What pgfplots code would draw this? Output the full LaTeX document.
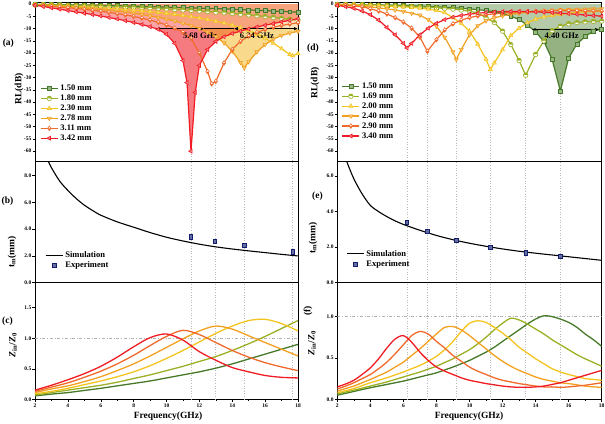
\documentclass[border=0pt]{standalone}
\usepackage{pgfplots}
\pgfplotsset{compat=1.18}
\usepackage{pgfplotstable}
\usetikzlibrary{plotmarks,arrows.meta}
\usepackage{fontspec}
\setmainfont{Liberation Serif}

\definecolor{cG}{RGB}{70,122,40}
\definecolor{cYG}{RGB}{155,176,36}
\definecolor{cY}{RGB}{244,196,30}
\definecolor{cA}{RGB}{242,160,32}
\definecolor{cO}{RGB}{240,106,44}
\definecolor{cR}{RGB}{240,28,36}
\definecolor{cNavy}{RGB}{20,30,110}

\newcommand\tickfont{\fontsize{5.5}{6}\selectfont\bfseries}
\newcommand\legfont{\fontsize{8.5}{10}\selectfont\bfseries}
\newcommand\labfont{\fontsize{9.5}{11}\selectfont\bfseries}

\pgfplotstableread{
f a150 a180 a230 a278 a311 a342
2 -0.10 -0.15 -0.25 -0.35 -0.45 -0.40
2.5 -0.13 -0.20 -0.35 -0.50 -0.65 -0.95
3 -0.17 -0.27 -0.50 -0.70 -0.90 -1.50
3.5 -0.21 -0.35 -0.65 -0.90 -1.15 -2.05
4 -0.26 -0.43 -0.80 -1.10 -1.45 -2.60
4.5 -0.31 -0.52 -0.95 -1.35 -1.75 -3.15
5 -0.37 -0.62 -1.10 -1.60 -2.10 -3.70
5.5 -0.43 -0.72 -1.30 -1.90 -2.50 -4.25
6 -0.50 -0.83 -1.50 -2.20 -2.90 -4.85
6.5 -0.57 -0.95 -1.70 -2.55 -3.35 -5.45
7 -0.65 -1.07 -1.95 -2.90 -3.85 -6.05
7.5 -0.73 -1.20 -2.20 -3.30 -4.40 -6.75
8 -0.82 -1.34 -2.45 -3.75 -5.00 -7.50
8.5 -0.91 -1.48 -2.75 -4.25 -5.70 -8.30
9 -1.00 -1.63 -3.05 -4.80 -6.50 -9.20
9.5 -1.10 -1.80 -3.40 -5.40 -7.40 -10.3
10 -1.20 -1.97 -3.75 -6.10 -8.50 -12.3
10.5 -1.30 -2.15 -4.15 -6.90 -9.80 -16.0
11 -1.40 -2.35 -4.60 -7.80 -11.4 -23.0
11.25 nan nan nan nan nan -32.0
11.49 nan nan nan nan nan -60.0
11.5 -1.50 -2.55 -5.10 -8.80 -14.0 nan
11.75 nan nan nan nan nan -36.0
12 -1.60 -2.77 -5.65 -10.0 -20.0 -25.0
12.5 -1.70 -3.00 -6.25 -11.5 -27.5 -18.5
12.75 nan nan nan nan -32.5 nan
13 -1.80 -3.25 -6.95 -13.3 -31.5 -15.2
13.5 -1.92 -3.50 -7.70 -15.8 -24.0 -13.3
14 -2.05 -3.78 -8.60 -19.2 -18.5 -12.0
14.5 -2.20 -4.07 -9.60 -23.8 -15.2 -11.0
14.73 nan nan nan -26.0 nan nan
15 -2.35 -4.38 -10.8 -23.5 -13.0 -10.1
15.5 -2.50 -4.70 -12.2 -19.5 -11.5 -9.3
16 -2.65 -5.05 -13.9 -16.5 -10.3 -8.6
16.5 -2.80 -5.40 -15.9 -14.3 -9.4 -7.9
17 -2.95 -5.78 -18.2 -12.8 -8.7 -7.2
17.5 -3.10 -6.15 -20.5 -11.8 -8.1 -6.6
17.67 nan nan -21.0 nan nan nan
18 -3.25 -6.50 -20.2 -11.1 -7.6 -6.0
}\tA

\pgfplotstableread{
f rl
9.36 -10
9.5 -10.3
10 -12.3
10.5 -16.0
11 -23.0
11.25 -32.0
11.49 -60.0
11.75 -36.0
12 -25.0
12.5 -18.5
13 -15.2
13.5 -13.3
14 -12.0
14.5 -11.0
15 -10.1
15.04 -10
}\tAR

\pgfplotstableread{
f rl
12 -10.0
12.5 -11.5
13 -13.3
13.5 -15.8
14 -19.2
14.5 -23.8
14.73 -26.0
15 -23.5
15.5 -19.5
16 -16.5
16.5 -14.3
17 -12.8
17.5 -11.8
18 -11.1
18 -10
}\tAA

\pgfplotstableread{
f d150 d169 d200 d240 d290 d340
2 -0.10 -0.12 -0.15 -0.25 -0.35 -0.50
2.5 -0.13 -0.17 -0.22 -0.40 -0.50 -1.00
3 -0.17 -0.23 -0.30 -0.60 -0.75 -1.70
3.5 -0.22 -0.30 -0.40 -0.85 -1.05 -2.80
4 -0.28 -0.38 -0.50 -1.15 -1.90 -4.30
4.5 -0.35 -0.47 -0.62 -1.50 -2.80 -6.50
5 -0.42 -0.57 -0.76 -1.90 -4.00 -9.50
5.5 -0.50 -0.68 -0.92 -2.40 -5.50 -12.5
6 -0.60 -0.80 -1.10 -3.00 -7.30 -16.0
6.22 nan nan nan nan nan -17.9
6.5 -0.70 -0.95 -1.32 -3.70 -9.80 -16.0
7 -0.82 -1.10 -1.60 -4.50 -13.5 -12.5
7.45 nan nan nan nan -19.2 nan
7.5 -0.95 -1.30 -2.00 -6.30 nan -9.8
8 -1.10 -1.50 -2.60 -9.00 -14.5 -7.8
8.5 -1.27 -1.75 -3.50 -13.5 -10.5 -6.3
9 -1.46 -2.05 -5.50 -19.5 -8.0 -5.3
9.2 nan nan nan -22.6 nan nan
9.5 -1.68 -2.40 -7.80 -18.5 -6.5 -4.6
10 -1.93 -2.90 -11.0 -12.5 -5.5 -4.1
10.5 -2.22 -3.60 -16.3 -8.8 -4.8 -3.7
11 -2.60 -5.50 -22.5 -6.8 -4.3 -3.4
11.26 nan nan -26.7 nan nan nan
11.5 -3.10 -7.50 -24.0 -5.6 -3.95 -3.2
12 -3.80 -11.0 -18.6 -4.8 -3.65 -3.05
12.5 -4.90 -16.5 -12.8 -4.2 -3.4 -3.0
13 -6.30 -23.0 -9.8 -3.7 -3.2 -3.0
13.4 nan -29.0 nan nan nan nan
13.5 -8.50 nan -7.6 -3.3 -3.05 -3.05
14 -11.3 -20.5 -6.1 -3.0 -2.9 -3.15
14.5 -15.2 -15.0 -5.2 -2.7 -2.8 -3.3
15 -22.5 -10.8 -4.6 -2.5 -2.75 -3.5
15.5 -35.5 -9.0 -4.1 -2.35 -2.7 -3.7
16 -22.0 -8.0 -3.7 -2.2 -2.7 -3.9
16.5 -16.2 -7.5 -3.4 -2.1 -2.7 -4.15
17 -13.2 -7.2 -3.1 -2.0 -2.75 -4.4
17.5 -11.0 -7.0 -2.9 -1.95 -2.8 -4.65
18 -10.1 -6.9 -2.7 -1.9 -2.85 -4.9
}\tD

\pgfplotstableread{
f rl
13.76 -10
14 -11.3
14.5 -15.2
15 -22.5
15.5 -35.5
16 -22.0
16.5 -16.2
17 -13.2
17.5 -11.0
18 -10.1
18 -10
}\tDG

\pgfplotstableread{
f c150 c180 c230 c278 c311 c342
2 0.055 0.07 0.09 0.11 0.13 0.15
3 0.085 0.11 0.13 0.17 0.20 0.23
4 0.11 0.15 0.18 0.22 0.27 0.32
5 0.145 0.19 0.24 0.29 0.36 0.42
6 0.18 0.23 0.30 0.37 0.46 0.54
7 0.22 0.28 0.37 0.47 0.58 0.69
8 0.26 0.34 0.45 0.58 0.72 0.86
9 0.30 0.40 0.55 0.71 0.88 1.01
10 0.35 0.47 0.67 0.85 1.03 1.07
11 0.40 0.54 0.80 0.99 1.13 0.97
12 0.45 0.62 0.94 1.12 1.06 0.78
13 0.51 0.70 1.08 1.20 0.93 0.64
14 0.58 0.80 1.20 1.15 0.80 0.52
15 0.66 0.91 1.29 1.04 0.69 0.45
16 0.74 1.03 1.31 0.93 0.60 0.39
17 0.82 1.16 1.24 0.82 0.53 0.36
18 0.90 1.29 1.12 0.71 0.47 0.35
}\tC

\pgfplotstableread{
f f150 f169 f200 f240 f290 f340
2 0.050 0.065 0.080 0.100 0.125 0.150
2.5 0.072 0.088 0.105 0.130 0.160 0.185
3 0.095 0.110 0.130 0.160 0.200 0.230
3.5 0.118 0.135 0.165 0.200 0.250 0.300
4 0.140 0.160 0.200 0.240 0.300 0.380
4.5 0.160 0.185 0.230 0.285 0.370 0.490
5 0.180 0.210 0.260 0.330 0.450 0.620
5.5 0.200 0.240 0.295 0.390 0.550 0.730
6 0.220 0.270 0.330 0.450 0.660 0.770
6.5 0.245 0.300 0.370 0.530 0.770 0.690
7 0.270 0.330 0.410 0.610 0.820 0.570
7.5 0.295 0.365 0.460 0.700 0.790 0.470
8 0.320 0.400 0.520 0.790 0.700 0.390
8.5 0.355 0.445 0.600 0.870 0.620 0.340
9 0.390 0.490 0.700 0.880 0.530 0.300
9.5 0.430 0.545 0.820 0.840 0.460 0.260
10 0.470 0.600 0.920 0.770 0.390 0.230
10.5 0.520 0.670 0.950 0.690 0.340 0.210
11 0.570 0.750 0.930 0.610 0.300 0.190
11.5 0.630 0.840 0.870 0.530 0.260 0.175
12 0.700 0.920 0.800 0.460 0.230 0.160
12.5 0.770 0.980 0.720 0.400 0.210 0.150
13 0.840 0.960 0.630 0.350 0.190 0.145
13.5 0.910 0.910 0.560 0.310 0.175 0.145
14 0.970 0.850 0.490 0.270 0.160 0.150
14.5 1.010 0.790 0.430 0.240 0.150 0.160
15 1.000 0.720 0.370 0.220 0.150 0.180
15.5 0.970 0.660 0.330 0.200 0.145 0.200
16 0.930 0.600 0.300 0.190 0.150 0.230
16.5 0.870 0.540 0.275 0.175 0.160 0.260
17 0.790 0.490 0.250 0.160 0.170 0.290
17.5 0.720 0.445 0.240 0.150 0.185 0.320
18 0.640 0.400 0.230 0.145 0.200 0.350
}\tF

\pgfplotstableread{
f t
2.6 9.6
3 8.6
3.5 7.6
4 6.9
4.5 6.3
5 5.8
5.5 5.4
6 5.05
7 4.55
8 4.15
9 3.75
10 3.4
11 3.12
12 2.88
13 2.68
14 2.52
15 2.38
16 2.25
17 2.12
18 2.0
}\tSB

\pgfplotstableread{
f t
2.4 7.3
2.6 6.75
3 5.85
3.5 5.0
4 4.35
4.5 4.0
5 3.72
5.5 3.48
6 3.28
7 2.95
8 2.66
9 2.42
10 2.22
11 2.05
12 1.9
13 1.77
14 1.66
15 1.56
16 1.46
17 1.36
18 1.26
}\tSE

\pgfplotstableread{
f t
11.49 3.42
12.95 3.11
14.73 2.78
17.67 2.30
}\tEB

\pgfplotstableread{
f t
6.22 3.40
7.45 2.90
9.2 2.40
11.26 2.00
13.4 1.69
15.5 1.50
}\tEE

\tikzset{vl/.style={gray!55, dotted, line width=0.6pt}}
\pgfplotsset{
 panel/.style={scale only axis, xmin=2, xmax=18,
   axis line style={line width=0.9pt},
   tick style={line width=0.5pt, black},
   tick align=outside, major tick length=2.5pt, minor tick length=1.5pt,
   ytick pos=left, xtick pos=bottom,
   yticklabel style={font=\tickfont, inner sep=1pt},
   xticklabel style={font=\tickfont, inner sep=1.5pt},
   /pgf/number format/assume math mode=true,
   legend cell align=left, clip=true},
 noxt/.style={xtick=\empty},
 onedec/.style={yticklabel style={/pgf/number format/fixed, /pgf/number format/fixed zerofill, /pgf/number format/precision=1}},
 rl/.style={line width=1.2pt, mark size=2.3pt},
 zl/.style={line width=1.3pt, smooth, no markers},
 s1/.style={cG, mark=square*, mark options={fill=cG!55!white, solid, line width=0.6pt, scale=0.85}},
 s2/.style={cYG, mark=halfcircle*, mark options={fill=cYG, mark color=white, solid, line width=0.6pt}},
 s3/.style={cY, mark=triangle*, mark options={fill=cY!55!white, solid, line width=0.6pt}},
 s4/.style={cA, mark=triangle*, mark options={fill=cA!55!white, solid, rotate=180, line width=0.6pt}},
 s5/.style={cO, mark=halfdiamond*, mark options={fill=cO, mark color=white, solid, line width=0.6pt}},
 s6/.style={cR, mark=triangle*, mark options={fill=cR!55!white, solid, rotate=90, line width=0.6pt}},
 ex/.style={only marks, mark=square*, mark size=2.2pt, mark options={draw=cNavy, fill=cNavy!65!white, line width=0.6pt, xscale=0.75}},
 leg/.style={legend style={at={#1}, anchor=north west, draw=none, fill=none, font=\legfont, row sep=-1.2pt, inner sep=0pt}},
}

\begin{document}
\begin{tikzpicture}
\path[use as bounding box] (0pt,0pt) rectangle (605pt,423pt);

% ---------------- (a)
\begin{axis}[panel, noxt, at={(35pt,262pt)}, anchor=south west, width=263pt, height=158.8pt,
  ymin=-64, ymax=0.8, ytick={-60,-55,...,0}, leg={(0.019,0.493)}]
\addplot[draw=none, fill=cR, fill opacity=0.4, forget plot] table[x=f,y=a342]{\tA} \closedcycle;
\addplot[draw=none, fill=cA, fill opacity=0.3, forget plot] table[x=f,y=a278]{\tA} \closedcycle;
\addplot[draw=none, fill=cR, fill opacity=0.3, forget plot] table[x=f,y=rl]{\tAR} -- cycle;
\addplot[draw=none, fill=cY, fill opacity=0.3, forget plot] table[x=f,y=rl]{\tAA} -- cycle;
\draw[vl] (axis cs:11.49,-60) -- (axis cs:11.49,-64);
\draw[vl] (axis cs:12.95,-32) -- (axis cs:12.95,-64);
\draw[vl] (axis cs:14.73,-26) -- (axis cs:14.73,-64);
\draw[vl] (axis cs:17.67,-21) -- (axis cs:17.67,-64);
\addplot[rl, s1] table[x=f,y=a150]{\tA}; \addlegendentry{1.50 mm}
\addplot[rl, s2] table[x=f,y=a180]{\tA}; \addlegendentry{1.80 mm}
\addplot[rl, s3] table[x=f,y=a230]{\tA}; \addlegendentry{2.30 mm}
\addplot[rl, s4] table[x=f,y=a278]{\tA}; \addlegendentry{2.78 mm}
\addplot[rl, s5] table[x=f,y=a311]{\tA}; \addlegendentry{3.11 mm}
\addplot[rl, s6] table[x=f,y=a342]{\tA}; \addlegendentry{3.42 mm}
\draw[line width=0.9pt, {Latex[length=4pt,width=3.5pt]}-{Latex[length=4pt,width=3.5pt]}] (axis cs:9.36,-10) -- (axis cs:12.3,-10);
\draw[line width=0.9pt] (axis cs:12.3,-10) -- (axis cs:14.1,-10);
\draw[line width=0.9pt, {Latex[length=4pt,width=3.5pt]}-{Latex[length=4pt,width=3.5pt]}] (axis cs:14.1,-10) -- (axis cs:18,-10);
\node[font=\legfont] at (axis cs:12.04,-12.9) {5.68 GHz};
\node[font=\legfont] at (axis cs:15.5,-12.9) {6.24 GHz};
\end{axis}

% ---------------- (b)
\begin{axis}[panel, noxt, onedec, at={(35pt,140.3pt)}, anchor=south west, width=263pt, height=121.7pt,
  ymin=0, ymax=9.1, ytick={0,2,...,8}, leg={(0.038,0.275)}]
\draw[vl] (axis cs:11.49,0) -- (axis cs:11.49,9.1);
\draw[vl] (axis cs:12.95,0) -- (axis cs:12.95,9.1);
\draw[vl] (axis cs:14.73,0) -- (axis cs:14.73,9.1);
\draw[vl] (axis cs:17.67,0) -- (axis cs:17.67,9.1);
\addplot[black, line width=1.1pt, smooth, no markers] table[x=f,y=t]{\tSB}; \addlegendentry{Simulation}
\addplot[ex] table[x=f,y=t]{\tEB}; \addlegendentry{Experiment}
\end{axis}

% ---------------- (c)
\begin{axis}[panel, onedec, at={(35pt,23.7pt)}, anchor=south west, width=263pt, height=116.6pt,
  ymin=0, ymax=1.91, ytick={0,0.5,1,1.5}, xtick={2,4,...,18}, minor x tick num=1]
\draw[vl] (axis cs:11.49,0) -- (axis cs:11.49,1.91);
\draw[vl] (axis cs:12.95,0) -- (axis cs:12.95,1.91);
\draw[vl] (axis cs:14.73,0) -- (axis cs:14.73,1.91);
\draw[vl] (axis cs:17.67,0) -- (axis cs:17.67,1.91);
\draw[gray!60, dash dot, line width=0.6pt] (axis cs:2,1) -- (axis cs:18,1);
\addplot[zl, cG] table[x=f,y=c150]{\tC};
\addplot[zl, cYG] table[x=f,y=c180]{\tC};
\addplot[zl, cY] table[x=f,y=c230]{\tC};
\addplot[zl, cA] table[x=f,y=c278]{\tC};
\addplot[zl, cO] table[x=f,y=c311]{\tC};
\addplot[zl, cR] table[x=f,y=c342]{\tC};
\end{axis}

% ---------------- (d)
\begin{axis}[panel, noxt, at={(337.3pt,262pt)}, anchor=south west, width=264.4pt, height=158.8pt,
  ymin=-64, ymax=0.8, ytick={-60,-55,...,0}, leg={(0.016,0.507)}]
\addplot[draw=none, fill=cG, fill opacity=0.4, forget plot] table[x=f,y=d150]{\tD} \closedcycle;
\addplot[draw=none, fill=cG, fill opacity=0.3, forget plot] table[x=f,y=rl]{\tDG} -- cycle;
\draw[vl] (axis cs:6.22,-17.9) -- (axis cs:6.22,-64);
\draw[vl] (axis cs:7.45,-19.2) -- (axis cs:7.45,-64);
\draw[vl] (axis cs:9.2,-22.6) -- (axis cs:9.2,-64);
\draw[vl] (axis cs:11.26,-26.7) -- (axis cs:11.26,-64);
\draw[vl] (axis cs:13.4,-29) -- (axis cs:13.4,-64);
\draw[vl] (axis cs:15.5,-35.5) -- (axis cs:15.5,-64);
\addplot[rl, s1] table[x=f,y=d150]{\tD}; \addlegendentry{1.50 mm}
\addplot[rl, s2] table[x=f,y=d169]{\tD}; \addlegendentry{1.69 mm}
\addplot[rl, s3] table[x=f,y=d200]{\tD}; \addlegendentry{2.00 mm}
\addplot[rl, s4] table[x=f,y=d240]{\tD}; \addlegendentry{2.40 mm}
\addplot[rl, s5] table[x=f,y=d290]{\tD}; \addlegendentry{2.90 mm}
\addplot[rl, s6] table[x=f,y=d340]{\tD}; \addlegendentry{3.40 mm}
\draw[line width=0.9pt, {Latex[length=4pt,width=3.5pt]}-{Latex[length=4pt,width=3.5pt]}] (axis cs:13.76,-10.4) -- (axis cs:17.85,-10.4);
\node[font=\legfont] at (axis cs:15.58,-13.0) {4.40 GHz};
\end{axis}

% ---------------- (e)
\begin{axis}[panel, noxt, onedec, at={(337.3pt,140.3pt)}, anchor=south west, width=264.4pt, height=121.7pt,
  ymin=0, ymax=6.85, ytick={0,2,4,6}, leg={(0.033,0.285)}]
\draw[vl] (axis cs:6.22,0) -- (axis cs:6.22,6.85);
\draw[vl] (axis cs:7.45,0) -- (axis cs:7.45,6.85);
\draw[vl] (axis cs:9.2,0) -- (axis cs:9.2,6.85);
\draw[vl] (axis cs:11.26,0) -- (axis cs:11.26,6.85);
\draw[vl] (axis cs:13.4,0) -- (axis cs:13.4,6.85);
\draw[vl] (axis cs:15.5,0) -- (axis cs:15.5,6.85);
\addplot[black, line width=1.1pt, smooth, no markers] table[x=f,y=t]{\tSE}; \addlegendentry{Simulation}
\addplot[ex] table[x=f,y=t]{\tEE}; \addlegendentry{Experiment}
\end{axis}

% ---------------- (f)
\begin{axis}[panel, onedec, at={(337.3pt,23.7pt)}, anchor=south west, width=264.4pt, height=116.6pt,
  ymin=0, ymax=1.41, ytick={0,0.5,1}, xtick={2,4,...,18}, minor x tick num=1]
\draw[vl] (axis cs:6.22,0) -- (axis cs:6.22,1.41);
\draw[vl] (axis cs:7.45,0) -- (axis cs:7.45,1.41);
\draw[vl] (axis cs:9.2,0) -- (axis cs:9.2,1.41);
\draw[vl] (axis cs:11.26,0) -- (axis cs:11.26,1.41);
\draw[vl] (axis cs:13.4,0) -- (axis cs:13.4,1.41);
\draw[vl] (axis cs:15.5,0) -- (axis cs:15.5,1.41);
\draw[gray!60, dash dot, line width=0.6pt] (axis cs:2,1) -- (axis cs:18,1);
\addplot[zl, cG] table[x=f,y=f150]{\tF};
\addplot[zl, cYG] table[x=f,y=f169]{\tF};
\addplot[zl, cY] table[x=f,y=f200]{\tF};
\addplot[zl, cA] table[x=f,y=f240]{\tF};
\addplot[zl, cO] table[x=f,y=f290]{\tF};
\addplot[zl, cR] table[x=f,y=f340]{\tF};
\end{axis}

% labels
\node[rotate=90, font=\labfont] at (19pt,334pt) {RL(dB)};
\node[rotate=90, font=\labfont] at (315pt,340pt) {RL(dB)};
\node[rotate=90, font=\labfont] at (12pt,171pt) {t\textsubscript{m}(mm)};
\node[rotate=90, font=\labfont] at (313pt,185pt) {t\textsubscript{m}(mm)};
\node[rotate=90, font=\labfont] at (13pt,78pt) {\textit{Z}\textsubscript{in}/\textit{Z}\textsubscript{0}};
\node[rotate=90, font=\labfont] at (312pt,80pt) {\textit{Z}\textsubscript{in}/\textit{Z}\textsubscript{0}};
\node[font=\labfont] at (8.3pt,379.7pt) {(a)};
\node[font=\labfont] at (7.5pt,222pt) {(b)};
\node[font=\labfont] at (7.5pt,102pt) {(c)};
\node[font=\labfont] at (313pt,374.3pt) {(d)};
\node[font=\labfont] at (317.5pt,226.3pt) {(e)};
\node[rotate=90, font=\labfont] at (308pt,112.3pt) {(f)};
\node[font=\labfont] at (168pt,6.5pt) {Frequency(GHz)};
\node[font=\labfont] at (469pt,6.5pt) {Frequency(GHz)};
\end{tikzpicture}
\end{document}
